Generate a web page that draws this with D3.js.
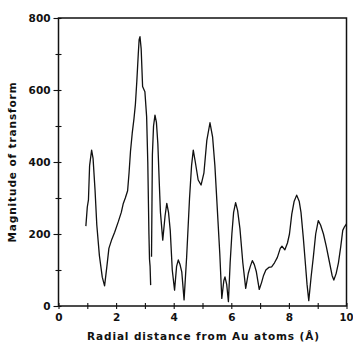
<!DOCTYPE html>
<html><head><meta charset="utf-8">
<script src="https://cdn.jsdelivr.net/npm/d3@7"></script>
<style>
body{margin:0;background:#fff;}
svg{display:block;}
text{font-family:"DejaVu Sans",sans-serif;fill:#111;font-weight:bold;}
</style></head>
<body>
<svg id="chart" width="353" height="343"></svg>
<script>
// Radial distance (Å) and magnitude of transform, segment 1
const seg1X = [0.95,1.0,1.04,1.08,1.15,1.2,1.27,1.33,1.42,1.52,1.6,1.68,1.75,1.85,1.95,2.08,2.18,2.25,2.32,2.4,2.45,2.5,2.56,2.62,2.67,2.72,2.77,2.8,2.83,2.87,2.92,3.0,3.06,3.1,3.14,3.16,3.18,3.2];
const seg1Y = [222,275,295,390,433,410,320,225,140,80,56,110,160,185,205,235,260,285,300,320,370,430,480,520,560,625,700,740,748,715,610,595,526,400,200,130,110,58];
// segment 2
const seg2X = [3.23,3.26,3.3,3.35,3.4,3.45,3.5,3.54,3.62,3.7,3.76,3.82,3.88,3.95,4.03,4.1,4.16,4.22,4.28,4.36,4.45,4.55,4.62,4.68,4.75,4.85,4.95,5.05,5.15,5.26,5.35,5.43,5.5,5.6,5.67,5.74,5.78,5.84,5.9,5.96,6.02,6.08,6.15,6.22,6.3,6.4,6.5,6.59,6.66,6.73,6.8,6.87,6.97,7.05,7.12,7.2,7.3,7.4,7.5,7.6,7.7,7.76,7.86,7.95,8.02,8.1,8.18,8.27,8.36,8.42,8.5,8.57,8.63,8.69,8.77,8.85,8.93,9.02,9.1,9.2,9.3,9.4,9.5,9.56,9.64,9.72,9.8,9.87,9.93,10.0];
const seg2Y = [137,420,500,530,510,450,340,260,183,250,285,260,210,100,44,110,128,115,95,17,137,300,390,433,400,350,336,370,460,509,470,390,290,146,21,70,81,60,12,120,200,260,287,265,215,120,49,91,110,126,115,95,46,65,85,100,107,109,120,135,160,166,156,175,200,255,290,308,290,260,190,120,60,15,80,137,200,237,225,200,165,125,85,72,90,120,165,210,220,228];
const xMajorTicks = [0,2,4,6,8,10];
const xMinorTicks = [1,3,5,7,9];
const yMajorTicks = [0,200,400,600,800];
const yMinorTicks = [100,300,500,700];
const xTitle = "Radial distance from Au atoms (Å)";
const yTitle = "Magnitude of transform";

const svg = d3.select("#chart");
const x = d3.scaleLinear().domain([0,10]).range([58.5,346.5]);
const y = d3.scaleLinear().domain([0,800]).range([306,18]);
const ink = "#111";

function styleAxis(g){
  g.select(".domain").remove();
  g.selectAll("line").attr("stroke",ink).attr("stroke-width",1.1);
  g.selectAll("text").attr("font-size",10.5).attr("fill",ink);
}

// left axis: majors (outside + labels), minors, inner parts
svg.append("g").attr("transform",`translate(${x(0)},0)`)
  .call(d3.axisLeft(y).tickValues(yMajorTicks).tickSize(5).tickPadding(3).tickFormat(d3.format("d")))
  .call(styleAxis);
svg.append("g").attr("transform",`translate(${x(0)},0)`)
  .call(d3.axisLeft(y).tickValues(yMinorTicks).tickSize(3).tickFormat(""))
  .call(styleAxis);
svg.append("g").attr("transform",`translate(${x(0)},0)`)
  .call(d3.axisRight(y).tickValues(yMajorTicks.concat(yMinorTicks)).tickSize(3).tickFormat(""))
  .call(styleAxis);

// bottom axis
const bottom = svg.append("g").attr("transform",`translate(0,${y(0)})`)
  .call(d3.axisBottom(x).tickValues(xMajorTicks).tickSize(3).tickPadding(5).tickFormat(d3.format("d")))
  .call(styleAxis);
bottom.selectAll(".tick text").filter(d=>d===10).attr("font-size",10).attr("text-anchor","end").attr("dx","6.4");
svg.append("g").attr("transform",`translate(0,${y(0)})`)
  .call(d3.axisBottom(x).tickValues(xMinorTicks).tickSize(3).tickFormat(""))
  .call(styleAxis);
svg.append("g").attr("transform",`translate(0,${y(0)})`)
  .call(d3.axisTop(x).tickValues(xMajorTicks.concat(xMinorTicks)).tickSize(3).tickFormat(""))
  .call(styleAxis);

// frame
svg.append("rect")
  .attr("x",x(0)).attr("y",y(800))
  .attr("width",x(10)-x(0)).attr("height",y(0)-y(800))
  .attr("fill","none").attr("stroke",ink).attr("stroke-width",1.5);

// curve
const line = d3.line().x(d=>x(d[0])).y(d=>y(d[1]));
[[seg1X,seg1Y],[seg2X,seg2Y]].forEach(([xs,ys])=>{
  svg.append("path")
    .datum(xs.map((v,i)=>[v,ys[i]]))
    .attr("d",line)
    .attr("fill","none").attr("stroke",ink).attr("stroke-width",1.3)
    .attr("stroke-linejoin","round");
});

// titles
svg.append("text")
  .attr("x",(x(0)+x(10))/2+1).attr("y",340)
  .attr("text-anchor","middle").attr("font-size",10.5)
  .style("letter-spacing","0.9px")
  .text(xTitle);
svg.append("text")
  .attr("transform",`translate(16,${(y(0)+y(800))/2}) rotate(-90)`)
  .attr("text-anchor","middle").attr("font-size",10.5)
  .style("letter-spacing","0.9px")
  .text(yTitle);
</script>
</body></html>
